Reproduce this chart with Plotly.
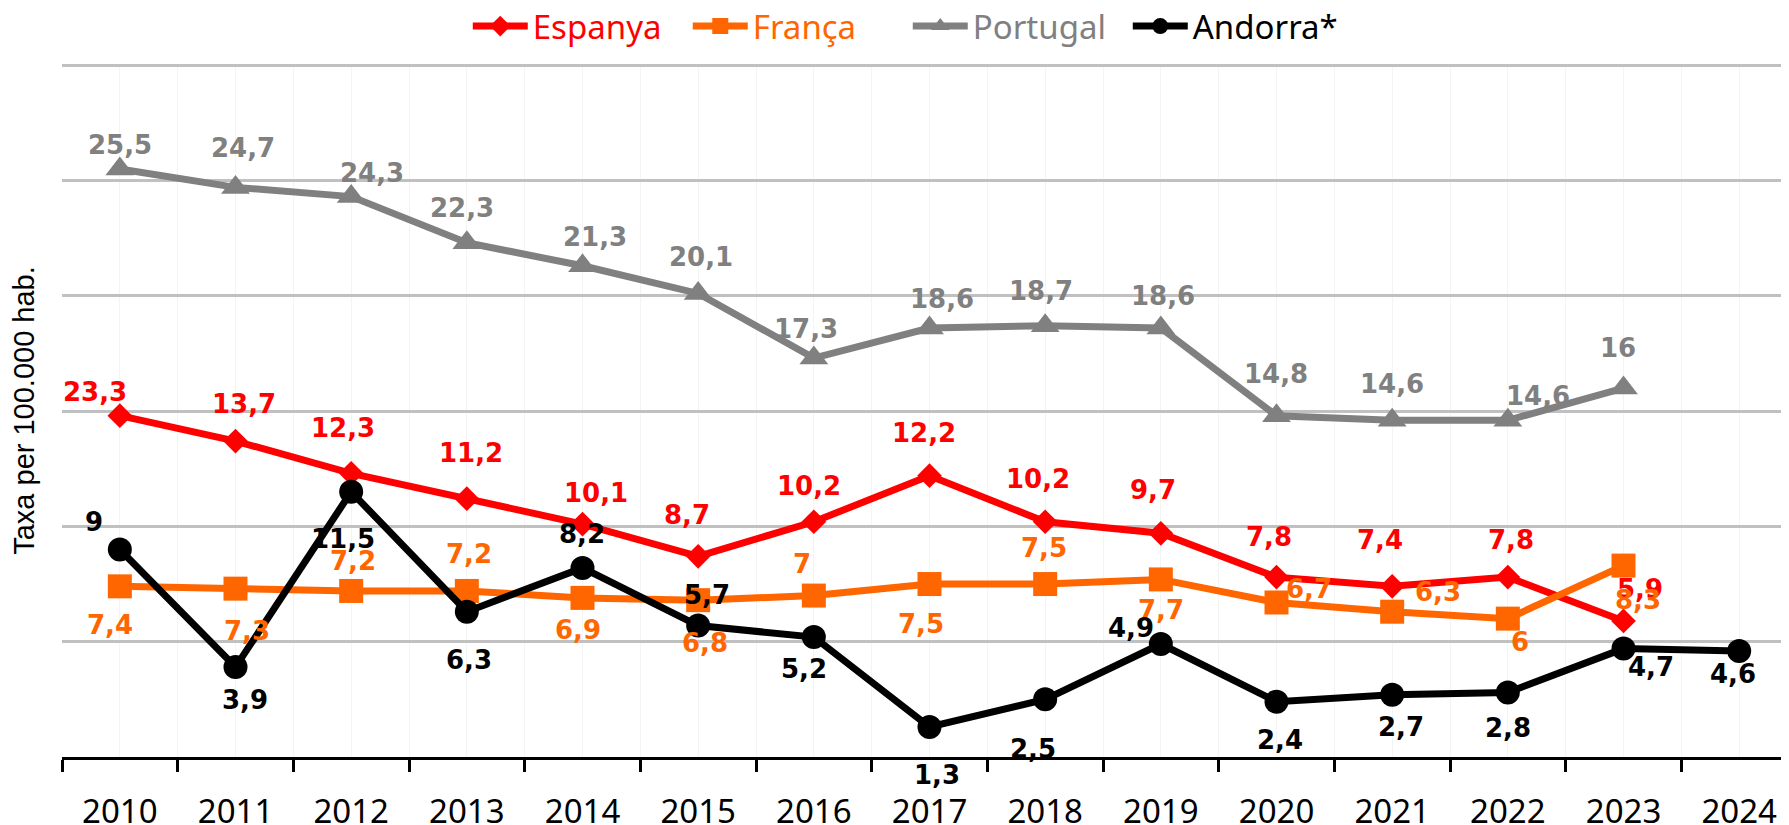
import plotly.graph_objects as go

# dades (taxa per 100.000 hab.)
years = list(range(2010, 2025))
espanya = [14.8, 13.7, 12.3, 11.2, 10.1, 8.7, 10.2, 12.2, 10.2, 9.7, 7.8, 7.4, 7.8, 5.9]
franca = [7.4, 7.3, 7.2, 7.2, 6.9, 6.8, 7.0, 7.5, 7.5, 7.7, 6.7, 6.3, 6.0, 8.3]
portugal = [25.5, 24.7, 24.3, 22.3, 21.3, 20.1, 17.3, 18.6, 18.7, 18.6, 14.8, 14.6, 14.6, 16.0]
andorra = [9.0, 3.9, 11.5, 6.3, 8.2, 5.7, 5.2, 1.3, 2.5, 4.9, 2.4, 2.7, 2.8, 4.7, 4.6]

# l'etiqueta publicada d'Espanya 2010 no coincideix amb el punt dibuixat
espanya_label_2010 = "23,3"


def fmt(v):
    return f"{v:g}".replace(".", ",")


# desplaçament de les etiquetes (px): (dx, dy)
esp_off = [(-25, 24), (8, 37), (-8, 45), (4, 46), (13, 31), (-11, 41), (-5, 36), (-6, 43),
           (-7, 43), (-8, 43), (-8, 40), (-12, 46), (3, 37), (16, 32)]
fra_off = [(-10, -39), (11, -42), (2, 30), (2, 37), (-5, -32), (7, -43), (-12, 32), (-9, -40),
           (-1, 36), (0, -31), (32, 13), (46, 20), (12, -23), (14, -34)]
por_off = [(0, 24), (7, 39), (21, 24), (-5, 35), (12, 29), (3, 36), (-8, 29), (12, 29),
           (-4, 35), (2, 32), (-1, 42), (0, 36), (30, 24), (-6, 40)]
and_off = [(-26, 27), (9, -33), (-8, -47), (2, -48), (-1, 34), (9, 31), (-10, -32), (7, -48),
           (-12, -50), (-30, 16), (3, -38), (9, -32), (0, -36), (27, -18), (-6, -23)]

series = [
    ("Espanya", espanya, "#ff0000", "diamond", 19, esp_off),
    ("França", franca, "#ff6600", "square", 24, fra_off),
    ("Portugal", portugal, "#808080", "triangle-up", 25, por_off),
    ("Andorra*", andorra, "#000000", "circle", 24, and_off),
]

narrow = "Noto Sans, sans-serif"

fig = go.Figure()
annotations = []
for name, vals, col, sym, msize, offs in series:
    xs = years[:len(vals)]
    fig.add_trace(go.Scatter(
        x=xs, y=vals, mode="lines+markers",
        name=f"<span style='color:{col}'>{name}</span>",
        line=dict(color=col, width=7),
        marker=dict(symbol=sym, size=msize, color=col),
        hoverinfo="skip",
    ))
    labels = [fmt(v) for v in vals]
    if name == "Espanya":
        labels[0] = espanya_label_2010
    for x, y, t, (dx, dy) in zip(xs, vals, labels, offs):
        annotations.append(dict(
            x=x, y=y, xref="x", yref="y", text=t, showarrow=False,
            xshift=dx, yshift=dy,
            font=dict(family="DejaVu Sans", size=26, color=col, weight="bold"),
        ))

fig.update_layout(
    width=1789, height=825,
    margin=dict(l=54, r=0, t=56, b=62),
    paper_bgcolor="white", plot_bgcolor="white",
    showlegend=True,
    legend=dict(orientation="h", xref="container", yref="container",
                x=0.257, xanchor="left", y=0.978, yanchor="middle",
                font=dict(family=narrow, size=33, color="black"),
                itemwidth=55, entrywidth=150, bgcolor="rgba(0,0,0,0)"),
    annotations=annotations,
)
fig.update_xaxes(
    range=[2009.5, 2024.5],
    tickmode="array", tickvals=years, ticktext=[str(y) for y in years],
    ticks="outside", ticklen=23, tickcolor="rgba(0,0,0,0)",
    tickfont=dict(family=narrow, size=33, color="black"),
    showgrid=True, gridcolor="#f4f4f4", gridwidth=1,
    showline=True, linecolor="black", linewidth=3,
    zeroline=False,
    minor=dict(tick0=2009.5, dtick=1, ticks="outside", ticklen=12, tickwidth=3,
               tickcolor="black", showgrid=True, gridcolor="#f4f4f4", gridwidth=1),
)
fig.update_yaxes(
    range=[0, 30.05], dtick=5, tick0=0,
    showticklabels=False, ticks="",
    showgrid=True, gridcolor="#c0c0c0", gridwidth=3,
    zeroline=False, showline=False,
    title=dict(text="Taxa per 100.000 hab.", standoff=21,
               font=dict(family="Liberation Sans, Arial, sans-serif", size=29, color="black")),
)

fig.write_html("out.html")
